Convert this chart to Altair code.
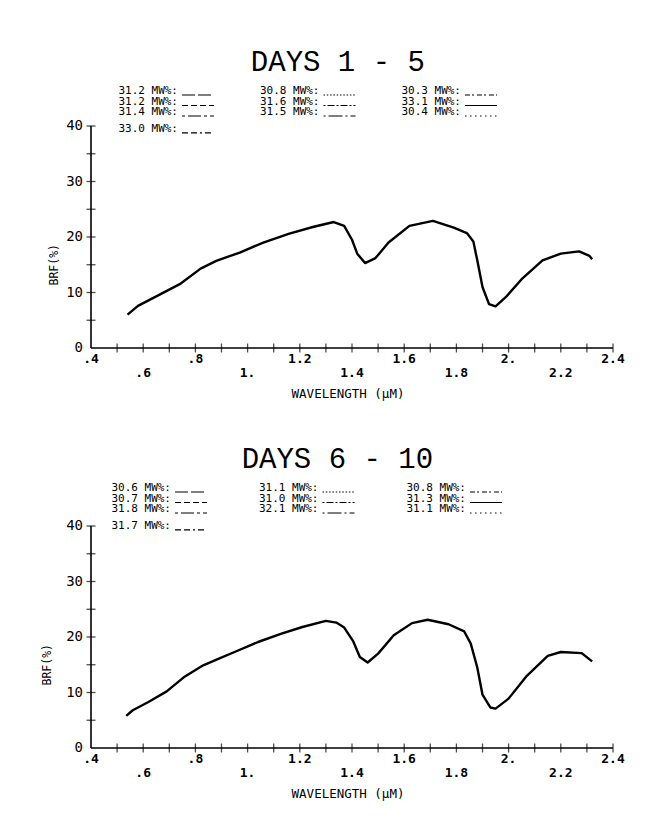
import altair as alt
import pandas as pd

# ---------------- data ----------------
top_wl = [0.54, 0.58, 0.65, 0.74, 0.82, 0.88, 0.97, 1.06, 1.16, 1.25, 1.33, 1.37, 1.40,
          1.42, 1.45, 1.49, 1.54, 1.62, 1.71, 1.79, 1.84, 1.865, 1.88, 1.90, 1.925, 1.95,
          1.99, 2.05, 2.13, 2.20, 2.27, 2.31, 2.32]
top_brf = [6.0, 7.6, 9.3, 11.5, 14.3, 15.7, 17.2, 19.0, 20.6, 21.8, 22.7, 22.0, 19.5,
           17.0, 15.3, 16.2, 19.0, 22.0, 22.9, 21.7, 20.7, 19.2, 15.8, 11.0, 7.9, 7.5,
           9.2, 12.4, 15.8, 17.0, 17.4, 16.6, 16.0]

bot_wl = [0.535, 0.56, 0.62, 0.69, 0.76, 0.83, 0.89, 0.95, 1.04, 1.13, 1.21, 1.30, 1.34,
          1.37, 1.405, 1.43, 1.46, 1.50, 1.56, 1.63, 1.69, 1.77, 1.83, 1.855, 1.88, 1.90,
          1.93, 1.95, 2.00, 2.07, 2.15, 2.20, 2.28, 2.32]
bot_brf = [5.8, 6.8, 8.3, 10.2, 12.9, 14.9, 16.1, 17.3, 19.1, 20.6, 21.8, 22.9, 22.6,
           21.7, 19.2, 16.4, 15.4, 17.0, 20.3, 22.5, 23.1, 22.3, 21.0, 18.8, 14.5, 9.6,
           7.3, 7.1, 8.9, 13.0, 16.6, 17.3, 17.1, 15.6]

x_domain = [0.4, 2.4]
y_domain = [0, 40]
x_label_values = [0.4, 0.6, 0.8, 1.0, 1.2, 1.4, 1.6, 1.8, 2.0, 2.2, 2.4]
x_label_texts = [".4", ".6", ".8", "1.", "1.2", "1.4", "1.6", "1.8", "2.", "2.2", "2.4"]
x_minor_ticks = [0.5, 0.6, 0.7, 0.8, 0.9, 1.0, 1.1, 1.2, 1.3, 1.4, 1.5, 1.6, 1.7, 1.8,
                 1.9, 2.0, 2.1, 2.2, 2.3, 2.4]
y_label_values = [0, 10, 20, 30, 40]
y_label_texts = ["0", "10", "20", "30", "40"]
y_minor_ticks = [5, 10, 15, 20, 25, 30, 35, 40]
x_title = "WAVELENGTH (μM)"
y_title = "BRF(%)"

top_mw = ["31.2", "31.2", "31.4", "33.0", "30.8", "31.6", "31.5", "30.3", "33.1", "30.4"]
bot_mw = ["30.6", "30.7", "31.8", "31.7", "31.1", "31.0", "32.1", "30.8", "31.3", "31.1"]
legend_col = [0, 0, 0, 0, 1, 1, 1, 2, 2, 2]
legend_row = [0, 1, 2, 3, 0, 1, 2, 0, 1, 2]
legend_keys = ["s1", "s2", "s3", "s4", "s5", "s6", "s7", "s8", "s9", "s10"]
dash_styles = [[13, 3], [6, 3], [3, 3, 13, 3], [6, 3, 6, 3, 2, 3], [1.5, 1.8],
               [2, 2, 7, 2], [2, 3, 14, 3], [5, 2, 2, 3], [1, 0], [1.5, 3.5]]

MONO = "DejaVu Sans Mono"
W, H, LEG_H = 522, 222, 40


def panel(title, wl, brf, mw, col_range, row_range, ytitle_off, title_dx):
    xs = alt.Scale(domain=x_domain, nice=False, zero=False)
    ys = alt.Scale(domain=y_domain, nice=False, zero=False)

    def X(f):
        return alt.X(f, scale=xs, axis=None)

    def Y(f):
        return alt.Y(f, scale=ys, axis=None)

    curve = alt.Chart(pd.DataFrame({"wl": wl, "brf": brf})).mark_line(
        color="black", strokeWidth=2.4, strokeJoin="round"
    ).encode(x=X("wl:Q"), y=Y("brf:Q"))

    # axis lines
    xdom = alt.Chart(pd.DataFrame({"a": [x_domain[0]], "b": [x_domain[1]],
                                   "y": [y_domain[0]]})).mark_rule(
        color="black", strokeWidth=1.6).encode(x=X("a:Q"), x2="b:Q", y=Y("y:Q"))
    ydom = alt.Chart(pd.DataFrame({"x": [x_domain[0]], "a": [y_domain[0]],
                                   "b": [y_domain[1]]})).mark_rule(
        color="black", strokeWidth=1.6).encode(x=X("x:Q"), y=Y("a:Q"), y2="b:Q")

    # crossing tick marks
    xt = alt.Chart(pd.DataFrame({"t": x_minor_ticks, "y": y_domain[0]})).mark_tick(
        orient="vertical", size=9, thickness=1.3, color="black"
    ).encode(x=X("t:Q"), y=Y("y:Q"))
    yt = alt.Chart(pd.DataFrame({"t": y_minor_ticks, "x": x_domain[0]})).mark_tick(
        orient="horizontal", size=9, thickness=1.3, color="black"
    ).encode(y=Y("t:Q"), x=X("x:Q"))

    # tick labels: x labels alternate between an upper and a lower row
    xl_df = pd.DataFrame({"v": x_label_values, "t": x_label_texts,
                          "row": [i % 2 for i in range(len(x_label_values))],
                          "y": y_domain[0]})
    xl_up = alt.Chart(xl_df).transform_filter("datum.row == 0").mark_text(
        font=MONO, fontSize=13, fontWeight="bold", color="black", baseline="middle",
        dy=11).encode(x=X("v:Q"), y=Y("y:Q"), text="t:N")
    xl_lo = alt.Chart(xl_df).transform_filter("datum.row == 1").mark_text(
        font=MONO, fontSize=13, fontWeight="bold", color="black", baseline="middle",
        dy=25).encode(x=X("v:Q"), y=Y("y:Q"), text="t:N")
    yl = alt.Chart(pd.DataFrame({"v": y_label_values, "t": y_label_texts,
                                 "x": x_domain[0]})).mark_text(
        font=MONO, fontSize=14, color="black", align="right", baseline="middle",
        dx=-8).encode(x=X("x:Q"), y=Y("v:Q"), text="t:N")

    # axis titles
    xtitle = alt.Chart(pd.DataFrame({"t": [x_title]})).mark_text(
        font=MONO, fontSize=12.5, color="black", baseline="middle", dy=46, dx=-4
    ).encode(x=alt.XDatum(1.4, scale=xs, axis=None),
             y=alt.YDatum(y_domain[0], scale=ys, axis=None), text="t:N")
    ytitle = alt.Chart(pd.DataFrame({"t": [y_title]})).mark_text(
        font=MONO, fontSize=11.5, color="black", baseline="middle", align="center",
        angle=270, dy=ytitle_off
    ).encode(x=alt.XDatum(x_domain[0], scale=xs, axis=None),
             y=alt.YDatum(15, scale=ys, axis=None), text="t:N")

    plot = alt.layer(curve, xdom, ydom, xt, yt, xl_up, xl_lo, yl, xtitle,
                     ytitle).properties(width=W, height=H)

    leg_df = pd.DataFrame({"col": legend_col, "row": legend_row,
                           "label": [f"{m} MW%:" for m in mw], "key": legend_keys})
    lx = alt.Scale(domain=[0, 2], range=col_range)
    ly = alt.Scale(domain=[0, 3], range=row_range)
    base = alt.Chart(leg_df).transform_calculate(
        rowpos="datum.row == 3 ? 3.6 : datum.row")
    txt = base.mark_text(align="right", baseline="middle", font=MONO, fontSize=11,
                         color="black").encode(
        x=alt.X("col:Q", scale=lx, axis=None),
        y=alt.Y("rowpos:Q", scale=ly, axis=None),
        text="label:N")
    lines = base.mark_rule(color="black", strokeWidth=1.2, xOffset=4, x2Offset=36,
                           yOffset=4).encode(
        x=alt.X("col:Q", scale=lx, axis=None), x2="col:Q",
        y=alt.Y("rowpos:Q", scale=ly, axis=None),
        strokeDash=alt.StrokeDash("key:N", scale=alt.Scale(domain=legend_keys,
                                                           range=dash_styles),
                                  legend=None))
    legend = alt.layer(txt, lines).properties(width=W, height=LEG_H)

    return alt.vconcat(legend, plot, spacing=0, bounds="flush",
                       title=alt.TitleParams(title, font="Liberation Mono", fontSize=29,
                                             fontWeight="normal", color="black",
                                             anchor="middle", dx=title_dx, offset=8))


top = panel("DAYS 1 - 5", top_wl, top_brf, top_mw, [87, 370], [5, 36.5], -36, 1)
bottom = panel("DAYS 6 - 10", bot_wl, bot_brf, bot_mw, [80, 375], [2, 33.5], -43, 4)

chart = alt.vconcat(top, bottom, spacing=44).properties(
    padding={"left": 34, "top": 40, "right": 10, "bottom": 10},
    background="white",
).configure_view(stroke=None)

chart.save("out.html", embed_options={"renderer": "svg", "actions": False})
